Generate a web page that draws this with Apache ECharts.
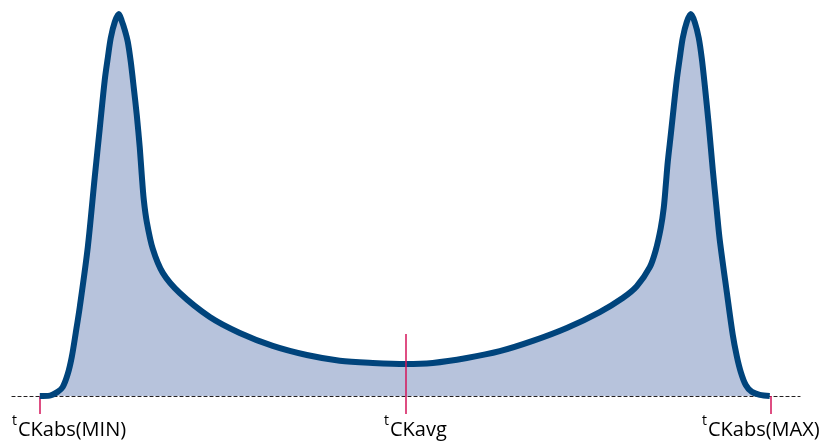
<!DOCTYPE html>
<html>
<head>
<meta charset="utf-8">
<script src="https://cdn.jsdelivr.net/npm/echarts@6/dist/echarts.min.js"></script>
<style>
  html, body { margin: 0; padding: 0; background: #fff; }
  #chart { width: 830px; height: 445px; }
</style>
</head>
<body>
<div id="chart"></div>
<script>
// time axis: tCKabs(MIN) = 0, tCKavg = 50, tCKabs(MAX) = 100
var tValues = [0, 1.37, 2.46, 3.15, 3.83, 4.38, 4.92, 5.47, 6.57, 7.52, 8.21, 8.89, 9.30, 9.71, 10.26, 10.81,
  11.22, 11.63, 12.04, 12.45, 12.86, 13.27, 13.68, 13.95, 14.23, 14.64, 15.46, 16.83, 19.15, 23.26, 27.36,
  31.87, 36.53, 41.04, 45.55, 50.07, 53.76, 58.41, 62.93, 67.44, 72.09, 76.61, 79.75, 81.67, 83.45, 84.27,
  84.95, 85.36, 85.64, 85.91, 86.32, 86.73, 87.14, 87.55, 87.96, 88.51, 89.06, 89.60, 90.15, 90.56, 90.97,
  91.52, 92.07, 92.61, 93.02, 93.98, 94.80, 95.35, 95.90, 96.58, 97.40, 98.50, 99.86];
var density = [0, 0.1, 1.1, 2.4, 5.8, 10.3, 16.6, 23.4, 39.2, 57.6, 70.5, 83.2, 88.9, 94.2, 98.4, 100.5,
  98.7, 96.3, 93.2, 87.9, 81.1, 73.9, 65.3, 58.2, 51.6, 45.8, 38.7, 32.4, 27.1, 20.8, 16.6,
  13.2, 10.8, 9.3, 8.7, 8.4, 8.7, 10.0, 11.8, 14.5, 17.9, 22.1, 25.8, 28.9, 33.9, 38.4,
  44.2, 49.5, 55.5, 61.6, 68.7, 76.1, 83.2, 88.9, 94.2, 98.4, 100.5, 98.4, 94.2, 88.9, 81.8,
  71.3, 59.5, 48.9, 41.1, 27.4, 16.1, 10.5, 6.3, 2.9, 1.1, 0.3, 0];
var tickValues = [0, 50, 100];
var tickNames = ['CKabs(MIN)', 'CKavg', 'CKabs(MAX)'];

var curve = [];
for (var i = 0; i < tValues.length; i++) {
  curve.push([tValues[i], density[i]]);
}

var labelRich = {
  t: { fontSize: 14, color: '#231f20', fontFamily: 'Open Sans', verticalAlign: 'top', lineHeight: 26, padding: [0, 1, 0, 0] },
  m: { fontSize: 20, color: '#231f20', fontFamily: 'Open Sans', lineHeight: 26, padding: [6, 0, 0, 0] }
};
var labelLeft = [12, 384, 702];
var graphics = [];
for (var k = 0; k < tickNames.length; k++) {
  graphics.push({
    type: 'text',
    left: labelLeft[k],
    top: 414,
    style: { text: '{t|t}{m|' + tickNames[k] + '}', rich: labelRich }
  });
}

var myChart = echarts.init(document.getElementById('chart'));
var option = {
  animation: false,
  grid: { left: 12, right: 30, top: 16, bottom: 49 },
  xAxis: {
    type: 'value',
    min: -3.8,
    max: 104,
    splitLine: { show: false },
    axisLine: { show: true, lineStyle: { color: '#231f20', width: 1.2, type: [3, 3] } },
    axisTick: { show: true, customValues: tickValues, length: 18, lineStyle: { color: '#d4145a', width: 1.5 } },
    axisLabel: { show: false }
  },
  yAxis: {
    type: 'value',
    min: 0,
    max: 100,
    show: false
  },
  graphic: graphics,
  series: [{
    type: 'line',
    data: curve,
    smooth: 0.3,
    showSymbol: false,
    clip: false,
    z: 1,
    lineStyle: { color: '#00447c', width: 6, join: 'round' },
    areaStyle: { color: '#b7c3dc', opacity: 1 },
    markLine: {
      silent: true,
      symbol: 'none',
      label: { show: false },
      lineStyle: { color: '#d4145a', width: 1.5, type: 'solid' },
      data: [[{ coord: [tickValues[1], 0] }, { coord: [tickValues[1], 16.3] }]]
    }
  }]
};
myChart.setOption(option);
</script>
</body>
</html>
